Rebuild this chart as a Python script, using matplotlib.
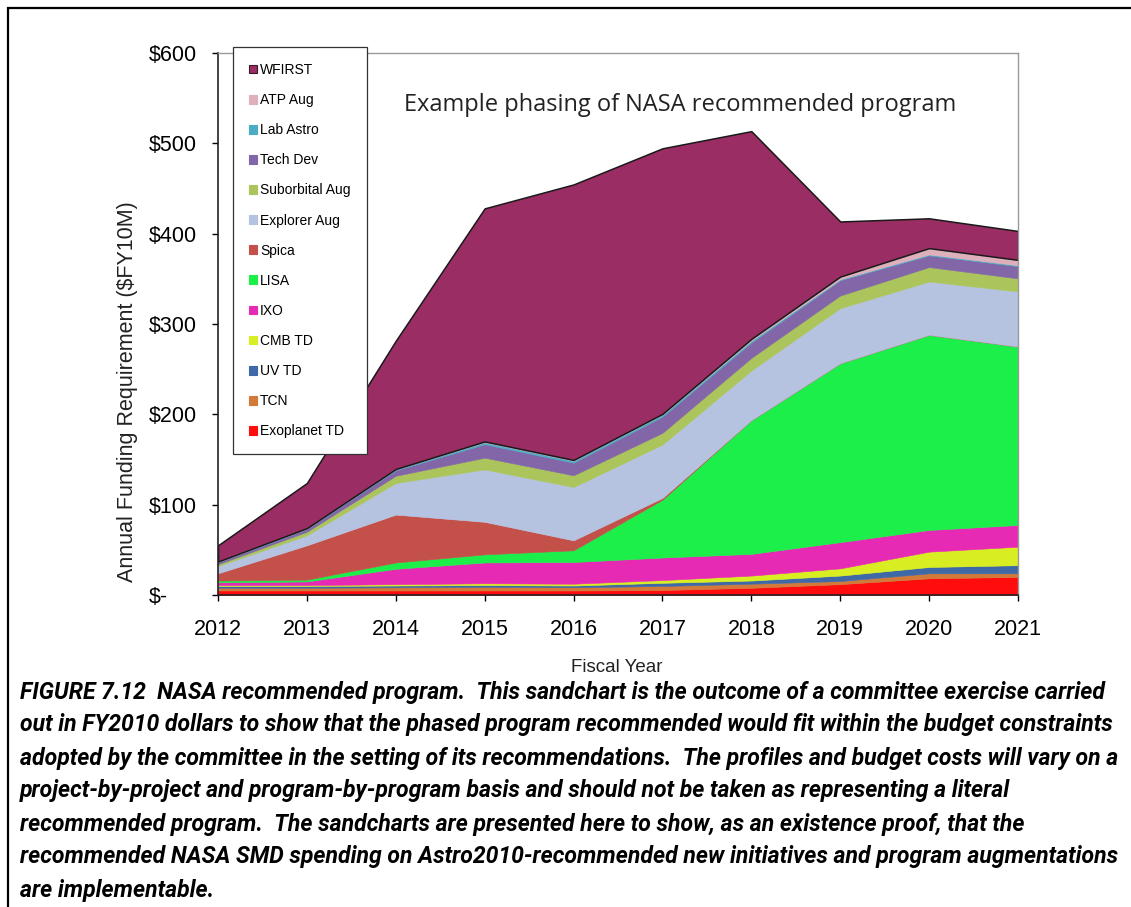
import matplotlib
matplotlib.use("Agg")
import matplotlib.pyplot as plt
from matplotlib.patches import Patch, Rectangle

years = [2012, 2013, 2014, 2015, 2016, 2017, 2018, 2019, 2020, 2021]

exoplanet_td   = [5, 5, 5, 5, 5, 5.5, 8, 12, 18.5, 20]
tcn            = [3, 3, 3.5, 4, 3.5, 4.5, 4.5, 3.5, 5.5, 4]
uv_td          = [2, 2, 2, 2, 2, 3.5, 3.5, 6, 7, 9]
cmb_td         = [1, 1, 1.5, 2, 2, 3, 5.5, 8, 17, 20.5]
ixo            = [3, 4, 17, 23, 24, 25, 24, 29, 24, 24]
lisa           = [2, 2, 7, 9, 13, 64, 148, 198, 216, 197.5]
spica          = [8, 38, 53, 36, 11, 2, 0, 0, 0, 0]
explorer_aug   = [8, 11, 35, 58, 59, 59, 55, 61, 59, 61]
suborbital_aug = [2, 4, 8, 13, 13, 13, 14, 14, 16, 14.5]
tech_dev       = [2, 3, 6, 15, 14, 18, 17, 17, 13, 13.5]
lab_astro      = [0.5, 0.5, 1, 2, 2, 2, 2, 1, 1, 1]
atp_aug        = [0.5, 0.5, 0.5, 1, 1, 1, 2, 3, 7, 6]
wfirst         = [18, 50, 142, 258, 305, 294, 230, 61, 33, 32]

series_names = ["Exoplanet TD", "TCN", "UV TD", "CMB TD", "IXO", "LISA", "Spica",
                "Explorer Aug", "Suborbital Aug", "Tech Dev", "Lab Astro", "ATP Aug", "WFIRST"]
series_values = [exoplanet_td, tcn, uv_td, cmb_td, ixo, lisa, spica,
                 explorer_aug, suborbital_aug, tech_dev, lab_astro, atp_aug, wfirst]
colors = ["#FF0D0D", "#D27A3A", "#3F69A6", "#D8EE22", "#E62AB4", "#1CEE4A", "#C4504A",
          "#B5C3E0", "#ABC55C", "#8266A8", "#4BACC6", "#DDB0BC", "#9A2D63"]

y_ticks = [0, 100, 200, 300, 400, 500, 600]
y_tick_labels = ["$-", "$100", "$200", "$300", "$400", "$500", "$600"]

title_text = "Example phasing of NASA recommended program"
x_label = "Fiscal Year"
y_label = "Annual Funding Requirement ($FY10M)"
caption_lines = [
    "FIGURE 7.12  NASA recommended program.  This sandchart is the outcome of a committee exercise carried",
    "out in FY2010 dollars to show that the phased program recommended would fit within the budget constraints",
    "adopted by the committee in the setting of its recommendations.  The profiles and budget costs will vary on a",
    "project-by-project and program-by-program basis and should not be taken as representing a literal",
    "recommended program.  The sandcharts are presented here to show, as an existence proof, that the",
    "recommended NASA SMD spending on Astro2010-recommended new initiatives and program augmentations",
    "are implementable.",
]

W, H = 1131, 907
fig = plt.figure(figsize=(W / 100, H / 100), dpi=100)
fig.patch.set_facecolor("white")

# outer frame (top & left visible)
fig.patches.append(Rectangle((8 / W, -0.05), 1.2, 1 - 8 / H + 0.05, transform=fig.transFigure,
                             fill=False, edgecolor="black", linewidth=1.6, zorder=0))

ax = fig.add_axes([218 / W, (H - 595) / H, (1018 - 218) / W, (595 - 53) / H])
polys = ax.stackplot(years, *series_values, colors=colors, labels=series_names)
for p, c in zip(polys, colors):
    p.set_edgecolor(c)
    p.set_linewidth(0.4)
polys[-1].set_edgecolor("#1a1a1a")
polys[-1].set_linewidth(1.1)

ax.set_xlim(2012, 2021)
ax.set_ylim(0, 600)
ax.set_xticks(years)
ax.set_xticklabels([str(y) for y in years], fontsize=15.5, family="Liberation Sans")
ax.set_yticks(y_ticks)
ax.set_yticklabels(y_tick_labels, fontsize=15.5, family="Liberation Sans")
ax.tick_params(axis="x", direction="out", length=4, width=1, pad=13)
ax.tick_params(axis="y", direction="out", length=4, width=1, pad=46)
for lab in ax.get_yticklabels():
    lab.set_horizontalalignment("left")

for s in ["top", "right"]:
    ax.spines[s].set_color("#9a9a9a")
    ax.spines[s].set_linewidth(1.0)
for s in ["left", "bottom"]:
    ax.spines[s].set_color("#222222")
    ax.spines[s].set_linewidth(1.2)

ax.text(0.5775, 0.904, title_text, transform=ax.transAxes, ha="center", va="center",
        fontsize=17, family="Open Sans", color="#222222")

fig.text(617 / W, 1 - 668 / H, x_label, ha="center", va="center", fontsize=13.5,
         family="Liberation Sans", color="#222222")
fig.text(127 / W, 1 - 392 / H, y_label, ha="center", va="center", rotation=90,
         fontsize=15.5, family="Liberation Sans", color="#222222")

# legend
handles = []
for name, c in zip(series_names[::-1], colors[::-1]):
    ec = "#3a1a28" if name == "WFIRST" else c
    handles.append(Patch(facecolor=c, edgecolor=ec, linewidth=0.8))
leg = ax.legend(handles, series_names[::-1], loc="upper left",
                bbox_to_anchor=(233 / W, 1 - 47 / H), bbox_transform=fig.transFigure,
                fancybox=False, framealpha=1, edgecolor="#333333",
                handlelength=0.6, handleheight=0.6, handletextpad=0.2,
                labelspacing=1.16, borderpad=1.15, borderaxespad=0,
                prop={"family": "Liberation Sans", "size": 10})
leg.get_frame().set_linewidth(0.9)
leg.set_zorder(10)

# caption
cap_y0 = 692
cap_dy = 33
cap_texts = []
for i, line in enumerate(caption_lines):
    t = fig.text(20 / W, 1 - (cap_y0 + i * cap_dy) / H, line, ha="left", va="center",
                 fontsize=16, family=["Roboto", "DejaVu Sans"],
                 fontweight="bold", fontstyle="italic", color="black")
    cap_texts.append(t)

fig.canvas.draw()
r = fig.canvas.get_renderer()
target = 1120 - 20
w = max(t.get_window_extent(renderer=r).width for t in cap_texts)
scale = target / w
for t in cap_texts:
    t.set_fontsize(16 * scale)

fig.savefig("out.png", dpi=100)
